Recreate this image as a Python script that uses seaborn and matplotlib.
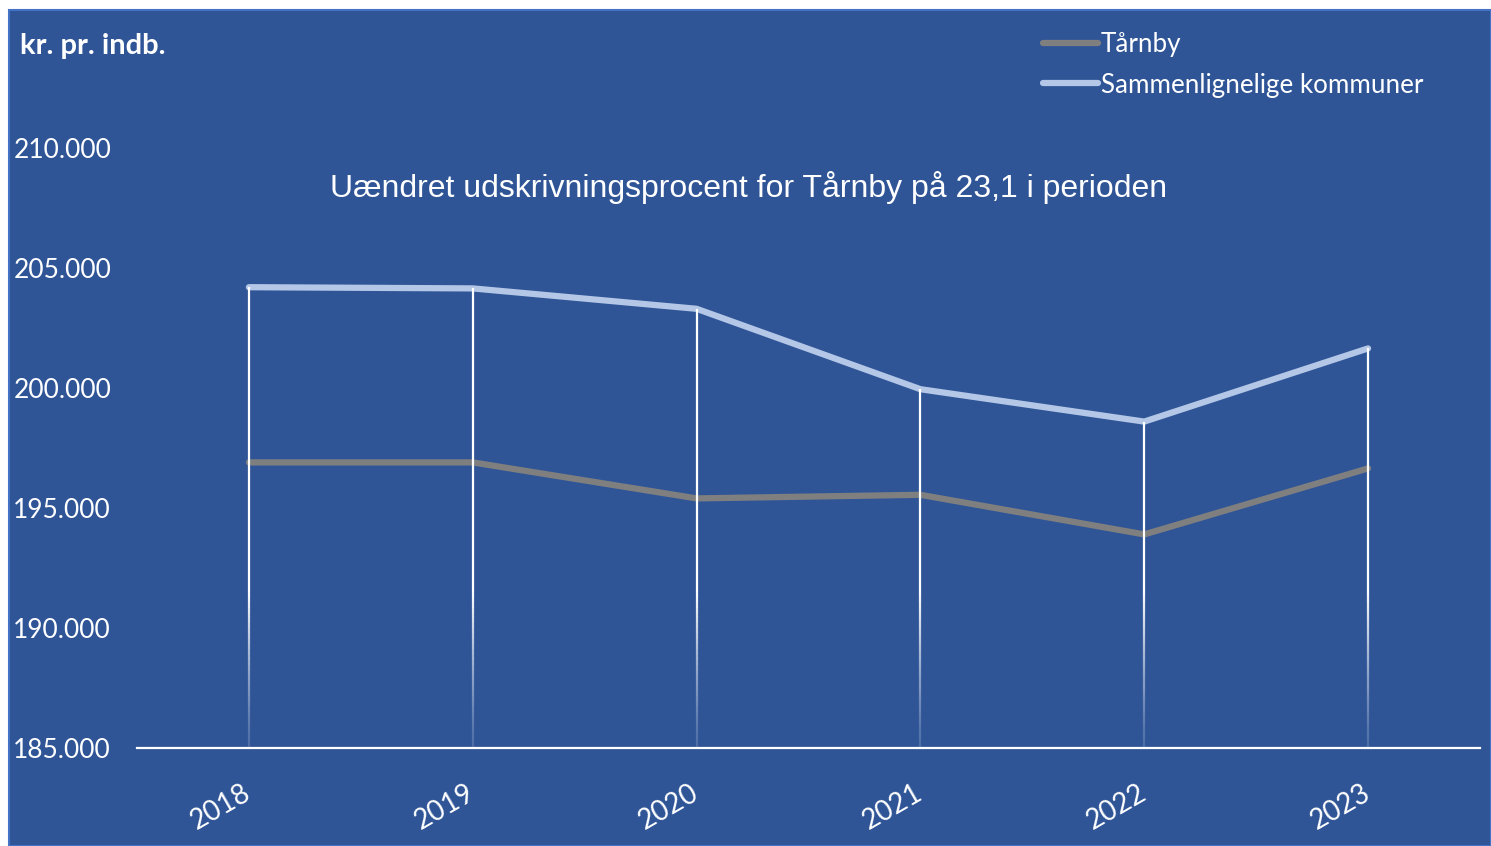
import numpy as np
import pandas as pd
import matplotlib
matplotlib.use("Agg")
import matplotlib.pyplot as plt
import seaborn as sns
from matplotlib.patches import Rectangle
from matplotlib.ticker import FuncFormatter

years = ["2018", "2019", "2020", "2021", "2022", "2023"]
taarnby = [196900, 196900, 195400, 195550, 193900, 196650]
sammen = [204200, 204150, 203300, 199950, 198600, 201650]
series_names = ["Tårnby", "Sammenlignelige kommuner"]
series_colors = ["#7F7F7F", "#B4C7E7"]

bg = "#2F5597"
W, H = 1491, 846

sns.set_theme(style="white")
plt.rcParams["font.family"] = ["Lato", "DejaVu Sans"]

df = pd.DataFrame({
    "year": years * 2,
    "value": taarnby + sammen,
    "series": [series_names[0]] * len(years) + [series_names[1]] * len(years),
})

fig = plt.figure(figsize=(W / 100, H / 100), dpi=100)
fig.patch.set_facecolor("white")
fig.patches.append(Rectangle((9 / W, 0), 1 - 9 / W, 1 - 10 / H, transform=fig.transFigure,
                             facecolor=bg, edgecolor="#4472C4", linewidth=1.5, zorder=-5))

ax = fig.add_axes([137 / W, (H - 748) / H, (1480 - 137) / W, 600 / H])
ax.set_facecolor("none")
ax.set_zorder(2)

sns.lineplot(data=df, x="year", y="value", hue="series", palette=series_colors,
             linewidth=4.5, ax=ax, legend=False, sort=False)
for ln in ax.lines:
    ln.set_solid_capstyle("round")
    ln.set_zorder(2)

# drop lines from top series to the axis, fading out near the bottom
ymin, ymax = 185000, 210000
fade_start = 191500
xs = np.arange(len(years))
ax.vlines(xs, fade_start, sammen, color="white", linewidth=1.6, zorder=3)
steps = 30
edges = np.linspace(fade_start, ymin, steps + 1)
for i in range(steps):
    a = 1 - (i + 0.5) / steps
    ax.vlines(xs, edges[i + 1], edges[i], color="white", alpha=0.15 + 0.85 * a ** 1.3,
              linewidth=1.6, zorder=3)

ax.set_xlim(-0.5, len(years) - 0.5)
ax.set_ylim(ymin, ymax)
ax.set_yticks(np.arange(185000, 210001, 5000))
ax.yaxis.set_major_formatter(FuncFormatter(lambda v, p: f"{int(v):,}".replace(",", ".")))
ax.set_xlabel("")
ax.set_ylabel("")

for s in ["top", "right", "left"]:
    ax.spines[s].set_visible(False)
ax.spines["bottom"].set_color("white")
ax.spines["bottom"].set_linewidth(1.6)
ax.spines["bottom"].set_zorder(4)

ax.tick_params(axis="y", length=0, pad=89, labelsize=19, labelcolor="white")
ax.tick_params(axis="x", length=0, pad=31, labelsize=20, labelcolor="white")
for lab in ax.get_yticklabels():
    lab.set_horizontalalignment("left")
for lab in ax.get_xticklabels():
    lab.set_rotation(30)
    lab.set_ha("right")
    lab.set_va("center")
    lab.set_rotation_mode("anchor")

fig.text(20 / W, 1 - 46 / H, "kr. pr. indb.", color="white", fontsize=21,
         fontweight="bold", va="center", ha="left")
fig.text(749 / W, 1 - 187 / H, "Uændret udskrivningsprocent for Tårnby på 23,1 i perioden",
         color="white", fontsize=23, va="center", ha="center", family="Liberation Sans")

handles = [plt.Line2D([], [], color=c, linewidth=4.5, solid_capstyle="round") for c in series_colors]
fig.legend(handles, series_names, loc="upper left", bbox_to_anchor=(1043 / W, 1 - 32 / H),
           frameon=False, fontsize=18.7, labelcolor="white", handlelength=2.1,
           handletextpad=0.12, labelspacing=0.6, borderaxespad=0, borderpad=0)

fig.savefig("out.png", dpi=100, facecolor=fig.get_facecolor())
